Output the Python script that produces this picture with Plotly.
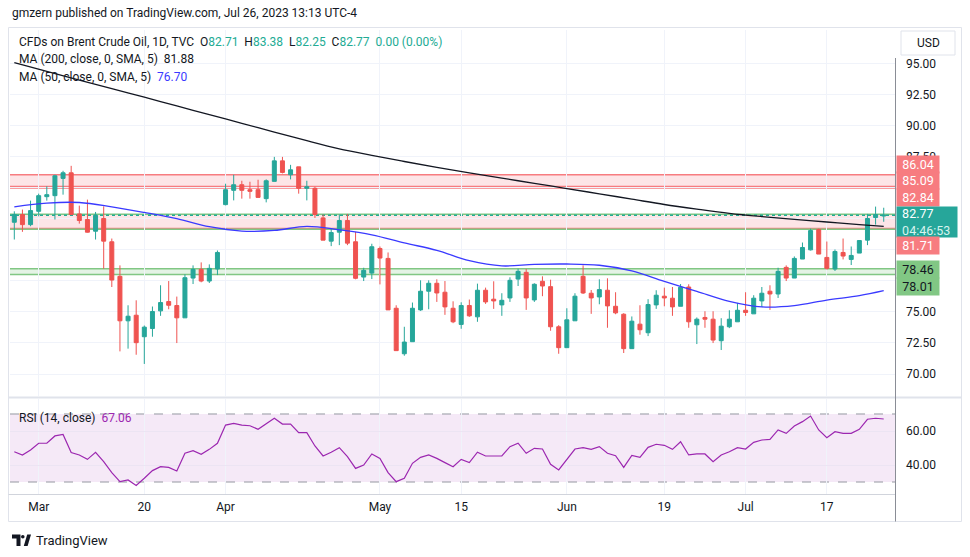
import plotly.graph_objects as go
import pandas as pd

# ---------------- data ----------------
trading_days = pd.bdate_range("2023-02-24", "2023-07-26")
dates = [d.strftime("%Y-%m-%d") for d in trading_days if d.strftime("%Y-%m-%d") != "2023-04-07"]

opens = [82.21, 82.83, 82.02, 83.09, 84.27, 84.35, 85.74, 86.19, 82.88, 82.43,
         81.49, 82.51, 80.64, 77.86, 74.28, 74.73, 73.00, 73.66, 75.08, 75.83,
         75.51, 74.52, 77.72, 78.42, 77.48, 78.45, 83.63, 84.78, 85.23, 84.83,
         84.83, 84.11, 85.50, 87.15, 86.03, 86.67, 84.94, 84.94, 82.56, 80.69,
         81.41, 82.35, 80.64, 77.80, 78.12, 80.10, 79.30, 75.29, 71.63, 72.60,
         75.16, 76.66, 77.30, 76.58, 75.29, 73.99, 75.51, 74.60, 76.74, 76.02,
         75.56, 76.12, 77.64, 78.18, 75.96, 77.46, 77.03, 73.80, 72.12, 74.28,
         77.86, 76.50, 76.20, 76.74, 75.45, 74.81, 72.04, 74.01, 73.32, 75.56,
         76.26, 76.10, 75.45, 77.00, 73.96, 74.55, 74.41, 72.68, 73.80, 74.20,
         75.13, 74.84, 75.88, 76.66, 76.44, 78.58, 77.72, 79.25, 79.99, 81.62,
         79.38, 78.45, 79.78, 79.22, 79.73, 80.77, 82.59, 82.71]
highs = [83.09, 83.23, 83.95, 84.51, 85.10, 86.03, 86.35, 86.75, 83.55, 84.03,
         83.04, 83.49, 80.90, 78.74, 75.53, 75.93, 73.90, 75.43, 77.14, 77.48,
         76.23, 78.02, 78.74, 78.98, 78.82, 79.94, 85.31, 86.03, 85.55, 85.47,
         85.63, 85.66, 87.47, 87.47, 86.83, 86.67, 85.55, 85.07, 82.83, 81.68,
         82.83, 82.88, 81.44, 78.55, 80.48, 80.26, 79.78, 75.53, 73.80, 75.75,
         77.54, 77.54, 77.62, 77.48, 75.85, 75.77, 75.99, 77.27, 76.95, 77.46,
         76.50, 77.78, 78.47, 78.45, 77.30, 77.86, 77.59, 73.93, 75.29, 76.50,
         78.74, 76.76, 77.62, 77.70, 76.58, 74.89, 74.63, 75.53, 76.02, 76.74,
         76.95, 77.00, 77.24, 77.22, 74.55, 75.05, 75.05, 74.49, 75.13, 75.72,
         76.58, 76.34, 77.00, 77.14, 78.55, 78.74, 79.46, 80.58, 81.70, 81.70,
         80.66, 80.02, 80.90, 80.26, 80.74, 82.88, 83.47, 83.38]
lows = [80.82, 81.44, 81.89, 82.69, 83.95, 82.43, 84.43, 82.80, 82.10, 81.38,
        80.82, 78.47, 77.00, 71.82, 72.04, 71.55, 70.81, 73.00, 74.68, 75.21,
        72.49, 74.52, 77.24, 77.38, 77.32, 77.96, 83.57, 83.97, 84.11, 84.11,
        84.21, 83.81, 85.50, 86.14, 85.66, 84.51, 83.97, 82.56, 80.77, 80.29,
        80.37, 80.37, 77.62, 77.48, 77.64, 77.21, 75.16, 71.88, 71.47, 72.60,
        75.08, 75.21, 75.80, 74.76, 74.09, 73.64, 74.60, 74.20, 75.64, 75.24,
        74.68, 75.80, 77.08, 75.16, 75.80, 76.26, 73.48, 71.63, 72.12, 74.28,
        76.44, 74.84, 75.61, 73.72, 74.81, 71.69, 72.04, 73.16, 73.05, 75.24,
        75.45, 74.68, 75.45, 73.72, 72.41, 73.72, 72.49, 71.93, 73.69, 74.20,
        74.68, 74.84, 75.40, 75.16, 76.12, 77.48, 77.72, 79.25, 79.94, 79.65,
        78.39, 78.29, 79.22, 78.77, 79.73, 80.37, 82.02, 82.25]
closes = [82.83, 82.02, 83.15, 84.35, 84.43, 85.95, 86.19, 82.83, 82.35, 81.41,
          82.77, 80.69, 77.56, 74.28, 74.65, 72.52, 73.77, 75.03, 75.75, 75.53,
          74.52, 77.75, 78.42, 77.48, 78.50, 79.78, 84.83, 85.23, 84.78, 84.70,
          84.21, 85.55, 87.15, 86.22, 86.43, 84.94, 85.07, 82.83, 80.77, 81.38,
          82.35, 80.53, 77.70, 78.34, 80.24, 79.33, 75.16, 71.88, 72.57, 75.29,
          76.66, 77.30, 76.52, 75.40, 74.20, 75.51, 74.68, 76.74, 75.80, 75.88,
          75.93, 77.54, 78.26, 76.12, 77.22, 77.08, 73.80, 72.12, 74.36, 76.26,
          76.52, 76.12, 76.79, 75.48, 74.92, 72.04, 74.25, 73.56, 75.59, 76.34,
          76.12, 75.40, 76.98, 74.20, 74.41, 74.41, 72.73, 73.85, 74.41, 75.13,
          74.95, 76.10, 76.50, 76.44, 78.26, 77.72, 79.30, 80.18, 81.54, 79.65,
          78.50, 79.86, 79.49, 79.54, 80.74, 82.51, 82.83, 82.77]

# moving averages read every 4th bar (plus last bar)
ma_sample_idx = list(range(0, 108, 4)) + [107]
ma200 = [95.05, 94.35, 93.65, 92.97, 92.27, 91.57, 90.87, 90.17, 89.47, 88.77,
         88.12, 87.60, 87.10, 86.62, 86.18, 85.76, 85.34, 84.92, 84.50, 84.07,
         83.64, 83.27, 82.93, 82.67, 82.45, 82.23, 82.02, 81.88]
ma50 = [83.45, 83.75, 83.80, 83.45, 83.00, 82.50, 81.85, 81.50, 81.55, 81.88,
        81.60, 81.20, 80.55, 79.95, 79.12, 78.70, 78.82, 78.85, 78.75, 78.30,
        77.45, 76.65, 75.85, 75.40, 75.50, 75.95, 76.30, 76.70]

rsi = [47.8, 45.9, 48.8, 52.8, 52.8, 57.1, 58.0, 47.3, 45.9, 43.3,
       47.5, 42.0, 35.5, 30.2, 31.2, 28.0, 32.2, 36.7, 39.0, 38.6,
       36.5, 46.9, 48.4, 46.3, 49.2, 52.8, 63.5, 64.5, 63.5, 63.1,
       61.0, 64.1, 67.5, 64.1, 64.1, 59.0, 59.0, 51.2, 45.3, 47.5,
       50.2, 44.9, 38.0, 40.0, 46.5, 43.9, 35.5, 30.2, 32.2, 41.0,
       44.5, 45.9, 43.9, 41.4, 39.0, 43.3, 41.4, 47.5, 45.3, 45.3,
       45.3, 50.8, 52.8, 46.9, 49.8, 49.4, 40.4, 37.1, 43.3, 49.4,
       50.2, 49.2, 50.8, 46.9, 45.5, 38.6, 45.7, 44.5, 50.4, 52.2,
       51.6, 49.2, 53.7, 45.9, 46.5, 46.5, 42.0, 45.9, 47.8, 50.2,
       49.4, 53.3, 54.7, 55.1, 60.6, 58.6, 62.9, 65.5, 68.8, 60.6,
       56.1, 59.6, 58.6, 58.6, 61.0, 66.9, 67.5, 67.06]

tick_dates = ["2023-03-01", "2023-03-20", "2023-04-03", "2023-05-01", "2023-05-15",
              "2023-06-01", "2023-06-19", "2023-07-03", "2023-07-17"]
tick_text = ["Mar", "20", "Apr", "May", "15", "Jun", "19", "Jul", "17"]
price_ticks = [70, 72.5, 75, 77.5, 80, 82.5, 85, 87.5, 90, 92.5, 95]
# tick labels that sit under the coloured price boxes are not visible
hidden_price_ticks = [77.5, 80, 82.5, 85]

# zones / levels
red_zone_hi = (85.09, 86.04)
red_zone_lo = (81.71, 82.84)
green_zone = (78.01, 78.46)
last_price = 82.77

# ---------------- styling ----------------
W, H = 970, 557
FONT = "Roboto"
TXT = "#131722"
GRID = "#f0f3fa"
UP = "#26a69a"
DN = "#ef5350"
RED_LINE = "#f77c80"
GREEN_LINE = "#81c784"
MA200_C = "#131722"
MA50_C = "#3a3aff"
RSI_C = "#9c27b0"
L_PX, R_PX = 10, 895.5


def fx(px):
    return px / W


def fy(py):
    return 1 - py / H


ma_dates = [dates[i] for i in ma_sample_idx]

fig = go.Figure()
fig.add_trace(go.Candlestick(
    x=dates, open=opens, high=highs, low=lows, close=closes,
    increasing=dict(line=dict(color=UP, width=1), fillcolor=UP),
    decreasing=dict(line=dict(color=DN, width=1), fillcolor=DN),
    whiskerwidth=0, xaxis="x", yaxis="y", hoverinfo="skip"))
fig.add_trace(go.Scatter(x=ma_dates, y=ma200, mode="lines", line=dict(color=MA200_C, width=1.3, shape="spline"),
                         xaxis="x", yaxis="y", hoverinfo="skip"))
fig.add_trace(go.Scatter(x=ma_dates, y=ma50, mode="lines", line=dict(color=MA50_C, width=1.3, shape="spline"),
                         xaxis="x", yaxis="y", hoverinfo="skip"))
fig.add_trace(go.Scatter(x=dates, y=rsi, mode="lines", line=dict(color=RSI_C, width=1.2),
                         xaxis="x2", yaxis="y2", hoverinfo="skip"))

shapes = []


def hline(y, color, width=1.5, dash="solid", yref="y", layer="below"):
    shapes.append(dict(type="line", xref="paper", yref=yref, x0=fx(L_PX), x1=fx(R_PX), y0=y, y1=y,
                       line=dict(color=color, width=width, dash=dash), layer=layer))


def band(y0, y1, fill, yref="y"):
    shapes.append(dict(type="rect", xref="paper", yref=yref, x0=fx(L_PX), x1=fx(R_PX), y0=y0, y1=y1,
                       fillcolor=fill, line=dict(width=0), layer="below"))


band(*red_zone_hi, "rgba(242,54,69,0.13)")
hline(red_zone_hi[1], RED_LINE)
hline(red_zone_hi[0], RED_LINE)
hline(red_zone_hi[0] - 0.13, RED_LINE)
band(*red_zone_lo, "rgba(242,54,69,0.13)")
hline(red_zone_lo[1] + 0.02, GREEN_LINE)
hline(red_zone_lo[0], RED_LINE)
hline(red_zone_lo[0] - 0.07, GREEN_LINE)
band(*green_zone, "rgba(76,175,80,0.15)")
hline(green_zone[1], GREEN_LINE)
hline(green_zone[0], GREEN_LINE)
hline(last_price, "#22ab94", width=1.5, dash="dot")

# RSI background band and dashed bounds
band(30, 70, "rgba(156,39,176,0.10)", yref="y2")
hline(70, "#9598a1", width=1, dash="dash", yref="y2")
hline(30, "#9598a1", width=1, dash="dash", yref="y2")

# frame, separators, axis line
shapes.append(dict(type="rect", xref="paper", yref="paper", x0=fx(8.5), x1=fx(961.5), y0=fy(521.5), y1=fy(27.5),
                   line=dict(color="#e0e3eb", width=1), layer="above"))
shapes.append(dict(type="line", xref="paper", yref="paper", x0=fx(8.5), x1=fx(961.5), y0=fy(397.5), y1=fy(397.5),
                   line=dict(color="#e0e3eb", width=2), layer="above"))
shapes.append(dict(type="line", xref="paper", yref="paper", x0=fx(8.5), x1=fx(R_PX), y0=fy(494.5), y1=fy(494.5),
                   line=dict(color="#d1d4dc", width=1), layer="above"))
shapes.append(dict(type="line", xref="paper", yref="paper", x0=fx(R_PX), x1=fx(R_PX), y0=fy(521.5), y1=fy(58),
                   line=dict(color="#8a8d96", width=1), layer="above"))
# USD button
shapes.append(dict(type="rect", xref="paper", yref="paper", x0=fx(901), x1=fx(955), y0=fy(55), y1=fy(31),
                   line=dict(color="#e0e3eb", width=1), fillcolor="white", layer="above"))


# TradingView logo
def path_px(points):
    return "M" + " L".join(f"{fx(a):.5f},{fy(b):.5f}" for a, b in points) + " Z"


shapes.append(dict(type="path", xref="paper", yref="paper",
                   path=path_px([(12, 534.5), (20.5, 534.5), (20.5, 546), (16.5, 546), (16.5, 538.5), (12, 538.5)]),
                   fillcolor=TXT, line=dict(width=0), layer="above"))
shapes.append(dict(type="circle", xref="paper", yref="paper", x0=fx(21), x1=fx(24.6), y0=fy(538.6), y1=fy(535),
                   fillcolor=TXT, line=dict(width=0), layer="above"))
shapes.append(dict(type="path", xref="paper", yref="paper",
                   path=path_px([(27.2, 534.5), (31, 534.5), (27.6, 546), (23.8, 546)]),
                   fillcolor=TXT, line=dict(width=0), layer="above"))

TEAL_TXT = "#22ab94"
ann = []


def text(x, y, s, size=12, color=TXT, anchor="left"):
    ann.append(dict(x=fx(x), y=fy(y), xref="paper", yref="paper", text=s, showarrow=False,
                    xanchor=anchor, yanchor="middle", font=dict(size=size, color=color, family=FONT)))


sp = "\u00a0\u00a0"
text(10, 13, "gmzern published on TradingView.com, Jul 26, 2023 13:13 UTC-4", size=12)
text(17, 42, "CFDs on Brent Crude Oil, 1D, TVC" + sp +
     f"O<span style='color:{TEAL_TXT}'>{opens[-1]:.2f}</span>" + sp +
     f"H<span style='color:{TEAL_TXT}'>{highs[-1]:.2f}</span>" + sp +
     f"L<span style='color:{TEAL_TXT}'>{lows[-1]:.2f}</span>" + sp +
     f"C<span style='color:{TEAL_TXT}'>{closes[-1]:.2f}</span>" + sp +
     f"<span style='color:{TEAL_TXT}'>0.00 (0.00%)</span>", size=12)
text(17, 59, "MA (200, close, 0, SMA, 5)" + sp + f"<span style='color:{MA200_C}'>{ma200[-1]:.2f}</span>", size=12)
text(17, 77, "MA (50, close, 0, SMA, 5)" + sp + f"<span style='color:{MA50_C}'>{ma50[-1]:.2f}</span>", size=12)
text(17, 418, "RSI (14, close)" + sp + f"<span style='color:{RSI_C}'>{rsi[-1]:.2f}</span>", size=12)
text(928, 43, "USD", size=12, anchor="center")
text(34, 540, "TradingView", size=13)


def label_box(yc, s, bg, fg="white", w=38, h=13, align="center"):
    ann.append(dict(x=fx(896), y=fy(yc), xref="paper", yref="paper", text=s, showarrow=False,
                    xanchor="left", yanchor="middle", bgcolor=bg, borderpad=2, width=w, height=h,
                    align=align, font=dict(size=12.5, color=fg, family=FONT)))


label_box(164, f"{red_zone_hi[1]:.2f}", RED_LINE)
label_box(180.5, f"{red_zone_hi[0]:.2f}", RED_LINE)
label_box(197.5, f"{red_zone_lo[1]:.2f}", RED_LINE)
label_box(222, f"\u00a0{last_price:.2f}<br>\u00a0<span style='color:#d6f3ee'>04:46:53</span>", "#26a69a",
          w=56, h=26, align="left")
label_box(246, f"{red_zone_lo[0]:.2f}", RED_LINE)
label_box(269, f"{green_zone[1]:.2f}", GREEN_LINE, fg=TXT)
label_box(286, f"{green_zone[0]:.2f}", GREEN_LINE, fg=TXT)

xr = [-0.53, 108.45]
fig.update_layout(
    width=W, height=H, margin=dict(l=0, r=0, t=0, b=0),
    paper_bgcolor="white", plot_bgcolor="white", showlegend=False, hovermode=False,
    font=dict(family=FONT, size=12, color=TXT),
    xaxis=dict(domain=[fx(L_PX), fx(R_PX)], type="category", range=xr, anchor="y",
               tickvals=tick_dates, ticktext=tick_text, showticklabels=False, showgrid=True,
               gridcolor=GRID, zeroline=False, showline=False, rangeslider=dict(visible=False), fixedrange=True),
    xaxis2=dict(domain=[fx(L_PX), fx(R_PX)], type="category", range=xr, matches="x", anchor="y2",
                tickvals=tick_dates, ticktext=tick_text, showgrid=True, gridcolor=GRID, zeroline=False,
                ticks="outside", ticklen=2, tickcolor="rgba(0,0,0,0)", tickfont=dict(size=12, color=TXT),
                showline=False),
    yaxis=dict(domain=[fy(396), fy(30)], range=[68.23, 97.68], side="right", anchor="x",
               tickvals=price_ticks,
               ticktext=["" if v in hidden_price_ticks else f"{v:.2f}" for v in price_ticks],
               gridcolor=GRID, zeroline=False, ticks="outside", ticklen=7, tickcolor="rgba(0,0,0,0)",
               tickfont=dict(size=12, color=TXT), showline=False),
    yaxis2=dict(domain=[fy(494), fy(399)], range=[22.94, 78.82], side="right", anchor="x2",
                tickvals=[40, 60], ticktext=["40.00", "60.00"], gridcolor="#ece4f3",
                zeroline=False, ticks="outside", ticklen=7, tickcolor="rgba(0,0,0,0)",
                tickfont=dict(size=12, color=TXT), showline=False),
    shapes=shapes, annotations=ann,
)

fig.write_html("out.html", config={"displayModeBar": False, "staticPlot": True},
               post_script="document.body.style.margin='0';")
